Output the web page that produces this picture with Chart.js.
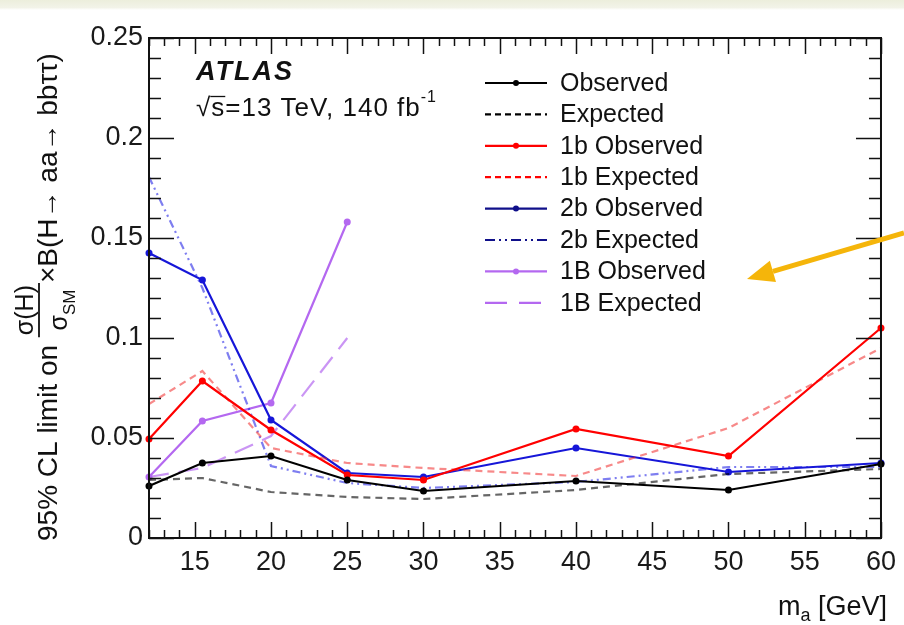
<!DOCTYPE html>
<html>
<head>
<meta charset="utf-8">
<script src="https://cdn.jsdelivr.net/npm/chart.js@4.4.1/dist/chart.umd.min.js"></script>
<style>
  html, body { margin: 0; padding: 0; background: #fff; }
  #wrap { width: 904px; height: 625px; position: relative; }
</style>
</head>
<body>
<div id="wrap"><canvas id="chartCanvas" width="904" height="625"></canvas></div>
<script>
// mass points (GeV)
const massPoints = [12, 15.5, 20, 25, 30, 40, 50, 60];
const mass1B = [12, 15.5, 20, 25];

// 95% CL limits
const obsAll = [0.026, 0.0375, 0.041, 0.029, 0.0235, 0.0285, 0.024, 0.037];
const expAll = [0.029, 0.030, 0.023, 0.0205, 0.0195, 0.024, 0.032, 0.0345];
const obs1b = [0.0495, 0.0785, 0.054, 0.0315, 0.029, 0.0545, 0.041, 0.105];
const exp1b = [0.067, 0.0835, 0.045, 0.0375, 0.035, 0.031, 0.055, 0.095];
const obs2b = [0.1425, 0.129, 0.059, 0.0325, 0.0305, 0.045, 0.033, 0.0375];
const exp2b = [0.1805, 0.125, 0.036, 0.0275, 0.025, 0.028, 0.0355, 0.0355];
const obs1B = [0.0305, 0.0585, 0.0675, 0.158];
const exp1B = [0.0305, 0.035, 0.051, 0.100];

const xTickValues = [15, 20, 25, 30, 35, 40, 45, 50, 55, 60];
const yTickValues = [0, 0.05, 0.1, 0.15, 0.2, 0.25];

const FONT = '"Liberation Sans", Arial, Helvetica, sans-serif';

function pts(xs, ys) {
  return xs.map((x, i) => ({ x: x, y: ys[i] }));
}

const BLUE = "#1616d8";
const PURPLE = "#b468f0";

const datasets = [
  { label: "Observed", data: pts(massPoints, obsAll), borderColor: "#000", backgroundColor: "#000",
    pointRadius: 3.5, legendColor: "#000", legendDash: [], legendMarker: true },
  { label: "Expected", data: pts(massPoints, expAll), borderColor: "rgba(0,0,0,0.6)", borderDash: [7, 5],
    pointRadius: 0, legendColor: "#000", legendDash: [6, 4] },
  { label: "1b Observed", data: pts(massPoints, obs1b), borderColor: "#f00", backgroundColor: "#f00",
    pointRadius: 3.5, legendColor: "#f00", legendDash: [], legendMarker: true },
  { label: "1b Expected", data: pts(massPoints, exp1b), borderColor: "rgba(240,40,40,0.55)", borderDash: [7, 5],
    pointRadius: 0, legendColor: "#f00", legendDash: [6, 4] },
  { label: "2b Observed", data: pts(massPoints, obs2b), borderColor: BLUE, backgroundColor: BLUE,
    pointRadius: 3.5, legendColor: "#10108a", legendDash: [], legendMarker: true },
  { label: "2b Expected", data: pts(massPoints, exp2b), borderColor: "rgba(40,40,230,0.6)", borderDash: [8, 4, 2, 4, 2, 4],
    pointRadius: 0, legendColor: "#10108a", legendDash: [10, 4, 2, 4, 2, 4] },
  { label: "1B Observed", data: pts(mass1B, obs1B), borderColor: PURPLE, backgroundColor: PURPLE,
    pointRadius: 3.5, legendColor: PURPLE, legendDash: [], legendMarker: true },
  { label: "1B Expected", data: pts(mass1B, exp1B), borderColor: "rgba(180,104,240,0.7)", borderDash: [20, 10],
    pointRadius: 0, legendColor: PURPLE, legendDash: [22, 12] }
];
datasets.forEach(d => {
  d.borderWidth = 2.2;
  d.pointBorderWidth = 0;
  d.pointBackgroundColor = d.backgroundColor || d.borderColor;
  d.tension = 0;
  d.clip = false;
  d.fill = false;
});

// white page, light band on top, axis box with inward ticks
const framePlugin = {
  id: "frame",
  beforeDraw(chart) {
    const c = chart.ctx;
    c.save();
    c.fillStyle = "#fff";
    c.fillRect(0, 0, chart.width, chart.height);
    const g = c.createLinearGradient(0, 0, 0, 10);
    g.addColorStop(0, "#eceedc");
    g.addColorStop(0.75, "#f2f3e8");
    g.addColorStop(1, "#ffffff");
    c.fillStyle = g;
    c.fillRect(0, 0, chart.width, 10);
    c.restore();
  },
  afterDatasetsDraw(chart) {
    const { ctx, chartArea: a, scales: { x, y } } = chart;
    ctx.save();
    ctx.strokeStyle = "#111";
    ctx.lineWidth = 1.5;
    ctx.beginPath();
    for (let i = 0; i <= 25; i++) {
      const py = Math.round(y.getPixelForValue(i / 100)) + 0.5;
      const len = i % 5 === 0 ? 25 : 12;
      ctx.moveTo(a.left, py); ctx.lineTo(a.left + len, py);
      ctx.moveTo(a.right, py); ctx.lineTo(a.right - len, py);
    }
    for (let m = 12; m <= 60; m++) {
      const px = Math.round(x.getPixelForValue(m)) + 0.5;
      const len = m % 5 === 0 ? 16 : 8;
      ctx.moveTo(px, a.bottom); ctx.lineTo(px, a.bottom - len);
      ctx.moveTo(px, a.top); ctx.lineTo(px, a.top + len);
    }
    ctx.stroke();
    ctx.lineWidth = 2;
    ctx.strokeRect(a.left, a.top, a.right - a.left, a.bottom - a.top);
    ctx.restore();
  }
};

// ATLAS label, legend, axis titles, arrow
const textPlugin = {
  id: "texts",
  afterDraw(chart) {
    const ctx = chart.ctx;
    ctx.save();
    ctx.fillStyle = "#111";
    ctx.textBaseline = "alphabetic";

    // ATLAS
    ctx.font = "italic bold 27px " + FONT;
    ctx.letterSpacing = "2px";
    ctx.fillText("ATLAS", 196, 80);

    // sqrt(s) line
    ctx.font = "26px " + FONT;
    ctx.letterSpacing = "1px";
    const line = "\u221As=13 TeV, 140 fb";
    ctx.fillText(line, 196, 116);
    const wRoot = ctx.measureText("\u221A").width;
    const wS = ctx.measureText("s").width;
    const wLine = ctx.measureText(line).width;
    ctx.lineWidth = 1.3;
    ctx.strokeStyle = "#111";
    ctx.beginPath();
    ctx.moveTo(196 + wRoot - 1, 96.5);
    ctx.lineTo(196 + wRoot + wS, 96.5);
    ctx.stroke();
    ctx.font = "16px " + FONT;
    ctx.fillText("-1", 196 + wLine, 102);
    ctx.letterSpacing = "0px";

    // legend
    chart.data.datasets.forEach((d, i) => {
      const yRow = 83 + i * 31.4;
      ctx.strokeStyle = d.legendColor;
      ctx.lineWidth = 2.2;
      ctx.setLineDash(d.legendDash);
      ctx.beginPath();
      ctx.moveTo(485, yRow);
      ctx.lineTo(547, yRow);
      ctx.stroke();
      ctx.setLineDash([]);
      if (d.legendMarker) {
        ctx.fillStyle = d.legendColor;
        ctx.beginPath();
        ctx.arc(516, yRow, 3, 0, Math.PI * 2);
        ctx.fill();
      }
      ctx.fillStyle = "#111";
      ctx.font = "25px " + FONT;
      ctx.textBaseline = "middle";
      ctx.fillText(d.label, 560, yRow + 1);
      ctx.textBaseline = "alphabetic";
    });

    // x title: m_a [GeV]
    ctx.fillStyle = "#111";
    ctx.font = "27px " + FONT;
    const wm = ctx.measureText("m").width;
    const wg = ctx.measureText(" [GeV]").width;
    ctx.font = "18px " + FONT;
    const wa = ctx.measureText("a").width;
    let xs = 887 - (wm + wa + wg);
    ctx.font = "27px " + FONT;
    ctx.fillText("m", xs, 615);
    ctx.font = "18px " + FONT;
    ctx.fillText("a", xs + wm, 621);
    ctx.font = "27px " + FONT;
    ctx.fillText(" [GeV]", xs + wm + wa, 615);

    // y title (rotated)
    ctx.translate(57, 541);
    ctx.rotate(-Math.PI / 2);
    ctx.font = "28px " + FONT;
    const p1 = "95% CL limit on ";
    ctx.fillText(p1, 0, 0);
    let cx = ctx.measureText(p1).width;
    ctx.font = "25px " + FONT;
    const wNum = ctx.measureText("\u03C3(H)").width;
    const wSig = ctx.measureText("\u03C3").width;
    ctx.font = "17px " + FONT;
    const wSM = ctx.measureText("SM").width;
    const wFrac = Math.max(wNum, wSig + wSM) + 4;
    ctx.font = "25px " + FONT;
    ctx.fillText("\u03C3(H)", cx + (wFrac - wNum) / 2, -24);
    const dx = cx + (wFrac - wSig - wSM) / 2;
    ctx.fillText("\u03C3", dx, 10);
    ctx.font = "17px " + FONT;
    ctx.fillText("SM", dx + wSig, 18);
    ctx.lineWidth = 1.8;
    ctx.strokeStyle = "#111";
    ctx.beginPath();
    ctx.moveTo(cx, -18);
    ctx.lineTo(cx + wFrac, -18);
    ctx.stroke();
    cx += wFrac;
    ctx.font = "28px " + FONT;
    ctx.fillText("\u00D7B(H\u2192 aa\u2192 bb\u03C4\u03C4)", cx, 0);
    ctx.restore();

    // orange arrow pointing at the legend
    ctx.save();
    const x0 = 904, y0 = 233, x1 = 747, y1 = 279;
    const ang = Math.atan2(y1 - y0, x1 - x0);
    const hl = 27, hw = 11;
    const bx = x1 - hl * Math.cos(ang), by = y1 - hl * Math.sin(ang);
    ctx.strokeStyle = "#f5b50a";
    ctx.fillStyle = "#f5b50a";
    ctx.lineWidth = 5;
    ctx.beginPath();
    ctx.moveTo(x0, y0);
    ctx.lineTo(bx, by);
    ctx.stroke();
    ctx.beginPath();
    ctx.moveTo(x1, y1);
    ctx.lineTo(bx + hw * Math.sin(ang), by - hw * Math.cos(ang));
    ctx.lineTo(bx - hw * Math.sin(ang), by + hw * Math.cos(ang));
    ctx.closePath();
    ctx.fill();
    ctx.restore();
  }
};

new Chart(document.getElementById("chartCanvas"), {
  type: "line",
  data: { datasets: datasets },
  plugins: [framePlugin, textPlugin],
  options: {
    responsive: false,
    animation: false,
    devicePixelRatio: 1,
    layout: { padding: { top: 38, right: 16, left: 0, bottom: 0 } },
    plugins: { legend: { display: false }, tooltip: { enabled: false } },
    scales: {
      x: {
        type: "linear",
        min: 12,
        max: 60,
        grid: { display: false, drawTicks: false },
        border: { display: false },
        afterBuildTicks: s => { s.ticks = xTickValues.map(v => ({ value: v })); },
        afterFit: s => { s.height = 87; },
        ticks: { font: { family: FONT, size: 27 }, color: "#1a1a1a", padding: 8, maxRotation: 0, autoSkip: false }
      },
      y: {
        type: "linear",
        min: 0,
        max: 0.25,
        grid: { display: false, drawTicks: false },
        border: { display: false },
        afterBuildTicks: s => { s.ticks = yTickValues.map(v => ({ value: v })); },
        afterFit: s => { s.width = 149; },
        ticks: { font: { family: FONT, size: 27 }, color: "#1a1a1a", padding: 6, callback: v => String(v) }
      }
    }
  }
});
</script>
</body>
</html>
